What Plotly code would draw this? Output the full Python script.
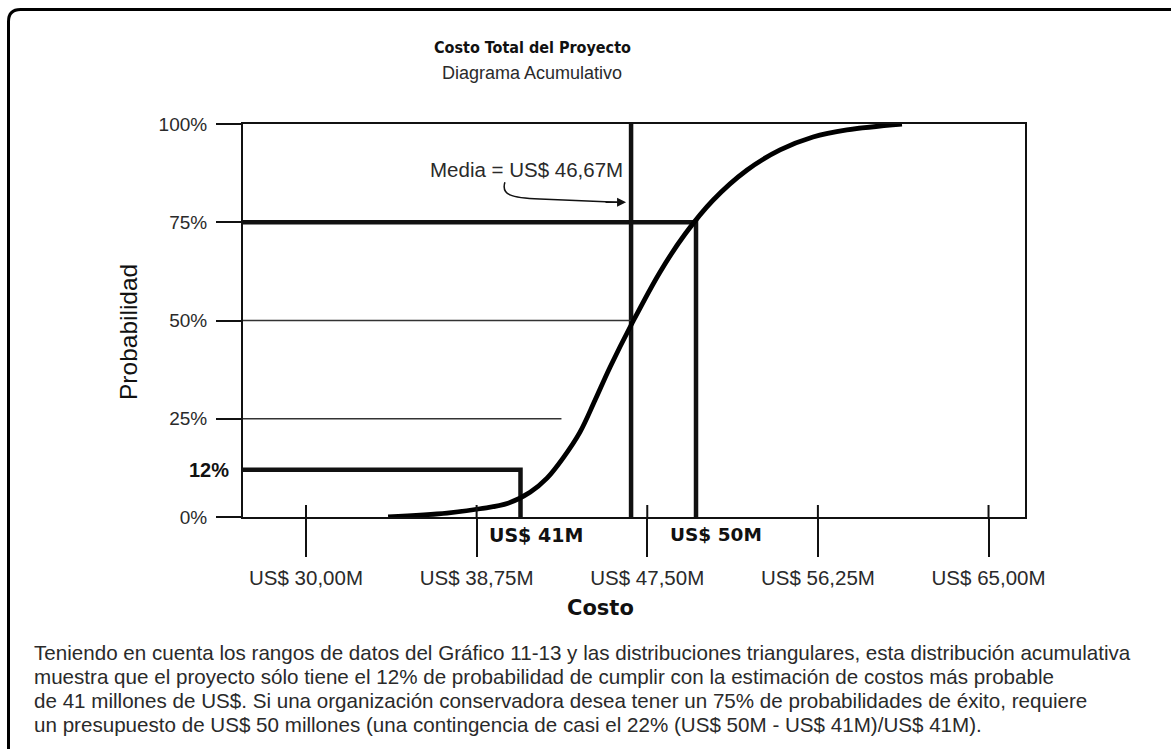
import plotly.graph_objects as go

# Cumulative distribution of total project cost (US$ millions vs. cumulative probability, %)
cost_musd = [34.21, 37.23, 38.92, 40.36, 41.49, 42.36, 43.18, 44.05, 44.82, 45.59,
             46.72, 48.15, 49.44, 50.87, 52.62, 54.31, 56.00, 57.74, 60.56]
cum_prob = [0, 1.0, 2.1, 3.5, 6.3, 9.9, 15.0, 21.6, 29.7, 38.1,
            49.3, 62.3, 72.0, 80.6, 88.3, 93.4, 96.7, 98.5, 100]

x_tick_vals = [30.0, 38.75, 47.5, 56.25, 65.0]
x_tick_text = ["US$ 30,00M", "US$ 38,75M", "US$ 47,50M", "US$ 56,25M", "US$ 65,00M"]
y_tick_vals = [0, 25, 50, 75, 100]
y_tick_text = ["0%", "25%", "50%", "75%", "100%"]

most_likely_cost = 41.0   # most probable estimate
most_likely_prob = 12     # probability of meeting it
mean_cost = 46.67
target_cost = 50.0        # budget for 75 % confidence
target_prob = 75
guide_25_end = 43.1       # where the 25 % guide stops

caption_lines = [
    "Teniendo en cuenta los rangos de datos del Gráfico 11-13 y las distribuciones triangulares, esta distribución acumulativa",
    "muestra que el proyecto sólo tiene el 12% de probabilidad de cumplir con la estimación de costos más probable",
    "de 41 millones de US$. Si una organización conservadora desea tener un 75% de probabilidades de éxito, requiere",
    "un presupuesto de US$ 50 millones (una contingencia de casi el 22% (US$ 50M - US$ 41M)/US$ 41M).",
]

# ---- page geometry (pixels) ----
W, H = 1171, 749
PL, PR, PT, PB = 243, 1025, 124, 517
X_RANGE = [26.77, 66.87]
Y_RANGE = [0, 100]
FONT = "Liberation Sans, Arial, sans-serif"
NARROW = "Liberation Sans Narrow, DejaVu Sans Condensed, Roboto Condensed, Liberation Sans, sans-serif"
HEAVY = "DejaVu Sans, Verdana, sans-serif"
INK = "#111111"
TXT = "#2a2a2a"


def px(x):
    return (x - PL) / (PR - PL)


def py(y):
    return (PB - y) / (PB - PT)


fig = go.Figure()

# thick reference lines
fig.add_trace(go.Scatter(
    x=[X_RANGE[0], most_likely_cost, most_likely_cost],
    y=[most_likely_prob, most_likely_prob, 0],
    mode="lines", line=dict(color=INK, width=4.5), cliponaxis=False, hoverinfo="skip"))
fig.add_trace(go.Scatter(
    x=[X_RANGE[0], target_cost, target_cost],
    y=[target_prob, target_prob, 0],
    mode="lines", line=dict(color=INK, width=4.5), cliponaxis=False, hoverinfo="skip"))
fig.add_trace(go.Scatter(
    x=[mean_cost, mean_cost], y=[0, 100],
    mode="lines", line=dict(color=INK, width=4.5), cliponaxis=False, hoverinfo="skip"))

# thin guides at 50 % and 25 %
fig.add_trace(go.Scatter(
    x=[X_RANGE[0], mean_cost], y=[50, 50],
    mode="lines", line=dict(color="#333333", width=1.5), hoverinfo="skip"))
fig.add_trace(go.Scatter(
    x=[X_RANGE[0], guide_25_end], y=[25, 25],
    mode="lines", line=dict(color="#333333", width=1.5), hoverinfo="skip"))

# cumulative curve
fig.add_trace(go.Scatter(
    x=cost_musd, y=cum_prob, mode="lines",
    line=dict(color="#000000", width=4.8, shape="spline", smoothing=1.0),
    cliponaxis=False, hoverinfo="skip"))

shapes = []
# upper part of the x ticks (ticks cross the axis line)
for v in x_tick_vals:
    shapes.append(dict(type="line", xref="x", yref="paper", x0=v, x1=v,
                       y0=0, y1=12 / (PB - PT), line=dict(color=INK, width=2)))

# curved pointer from the mean label towards the mean line
shapes.append(dict(
    type="path", xref="x", yref="y",
    path="M 40.20,85.2 C 40.00,82.0 40.50,81.2 41.99,80.9 L 45.95,80.1",
    line=dict(color=INK, width=1.5)))

# outer rounded frame (runs off the right and bottom edges)
r = 12
shapes.append(dict(
    type="path", xref="paper", yref="paper",
    path=(f"M {px(8.5)},{py(H + 20)} L {px(8.5)},{py(9.5 + r)} "
          f"Q {px(8.5)},{py(9.5)} {px(8.5 + r)},{py(9.5)} L {px(W + 20)},{py(9.5)}"),
    line=dict(color="#000000", width=3)))


def page_text(text, x, y, size, family=FONT, color=TXT, **kw):
    return dict(text=text, xref="paper", yref="paper", x=px(x), y=py(y),
                xanchor=kw.pop("xanchor", "center"), yanchor="middle",
                showarrow=False, font=dict(size=size, color=color, family=family), **kw)


annotations = [
    page_text("<b>Costo Total del Proyecto</b>", 532, 47, 16, family=NARROW, color=INK),
    page_text("Diagrama Acumulativo", 532, 73, 18),
    page_text("Probabilidad", 128, 332, 24.5, color=INK, textangle=-90),
    page_text("<b>Costo</b>", 600, 608, 21, family=HEAVY, color=INK),
    dict(text="<b>12%</b>", xref="paper", yref="y", x=0, y=most_likely_prob,
         xanchor="right", yanchor="middle", xshift=-12, showarrow=False,
         font=dict(size=20, color=INK, family=FONT)),
    dict(text="<b>US$ 41M</b>", xref="x", yref="y", x=most_likely_cost, y=0,
         xanchor="left", yanchor="top", xshift=-34, yshift=-5, showarrow=False,
         font=dict(size=19, color=INK, family=HEAVY)),
    dict(text="<b>US$ 50M</b>", xref="x", yref="y", x=target_cost, y=0,
         xanchor="left", yanchor="top", xshift=-28, yshift=-5, showarrow=False,
         font=dict(size=18.5, color=INK, family=HEAVY)),
    dict(text="Media = US$ 46,67M", xref="x", yref="y", x=mean_cost, y=88.5,
         xanchor="right", yanchor="middle", xshift=-6, showarrow=False,
         font=dict(size=20.5, color=TXT, family=FONT)),
    dict(text="", xref="x", yref="y", x=mean_cost, y=80.1, xshift=-5,
         showarrow=True, ax=-22, ay=0, arrowhead=2, arrowsize=1.2, arrowwidth=1.5,
         arrowcolor=INK),
]
for i, line in enumerate(caption_lines):
    annotations.append(page_text(line, 32, 652 + 24 * i, 20.6, xanchor="left", align="left"))

fig.update_layout(
    width=W, height=H,
    margin=dict(l=PL, r=W - PR, t=PT, b=H - PB),
    paper_bgcolor="white", plot_bgcolor="white",
    showlegend=False,
    font=dict(family=FONT, color=TXT),
    shapes=shapes, annotations=annotations,
    xaxis=dict(range=X_RANGE, tickvals=x_tick_vals, ticktext=x_tick_text,
               ticks="outside", ticklen=38, tickwidth=2, tickcolor=INK,
               ticklabelstandoff=3,
               showline=True, linewidth=2, linecolor=INK, mirror=True,
               showgrid=False, zeroline=False,
               tickfont=dict(size=20.5, color=TXT, family=FONT)),
    yaxis=dict(range=Y_RANGE, tickvals=y_tick_vals, ticktext=y_tick_text,
               ticks="outside", ticklen=25, tickwidth=1.5, tickcolor=INK,
               ticklabelstandoff=5,
               showline=True, linewidth=2, linecolor=INK, mirror=True,
               showgrid=False, zeroline=False,
               tickfont=dict(size=19, color=TXT, family=FONT)),
)

fig.write_html("out.html")
